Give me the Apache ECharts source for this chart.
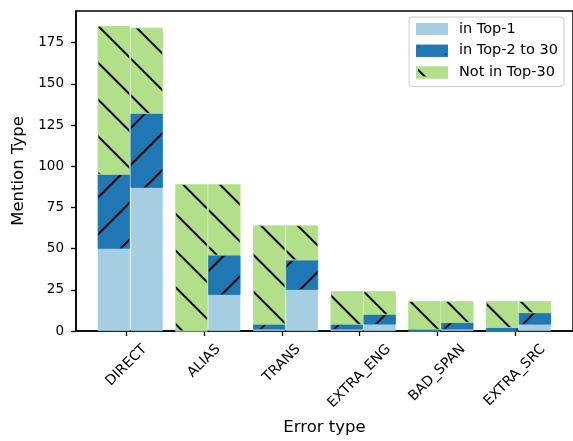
<!DOCTYPE html>
<html><head><meta charset="utf-8">
<script src="https://cdn.jsdelivr.net/npm/echarts@6/dist/echarts.min.js"></script>
<style>html,body{margin:0;padding:0;background:#fff}#c{width:573px;height:441px}</style>
</head><body><div id="c"></div>
<script>
const categories = ['DIRECT', 'ALIAS', 'TRANS', 'EXTRA_ENG', 'BAD_SPAN', 'EXTRA_SRC'];
const seriesNames = ['in Top-1', 'in Top-2 to 30', 'Not in Top-30'];
// left bar of each pair
const top1Left = [50, 0, 1, 1, 0, 0];
const top2Left = [45, 0, 3, 3, 1, 2];
const notLeft  = [90, 89, 60, 20, 17, 16];
// right bar of each pair
const top1Right = [87, 22, 25, 4, 1, 4];
const top2Right = [45, 24, 18, 6, 4, 7];
const notRight  = [52, 43, 21, 14, 13, 7];
const yTicks = [0, 25, 50, 75, 100, 125, 150, 175];

const colors = ['#a6cee3', '#1f78b4', '#b2df8a'];
const FONT = '"DejaVu Sans", sans-serif';
const LEFT_OFF = -0.163, RIGHT_OFF = 0.26, BAR_W = 32;
const X_MIN = -0.65, X_MAX = 5.75, Y_MAX = 194.25;

function hatch(rot) {
  return { symbol: 'rect', symbolSize: 1, symbolKeepAspect: false,
    dashArrayX: [10, 0], dashArrayY: [1.3, 24], rotation: rot,
    color: '#000', backgroundColor: null };
}
const decals = [null, hatch(-Math.PI / 4), hatch(Math.PI / 4)];

function barSeries(k, values, off, axisIdx, stack) {
  const itemStyle = { color: colors[k], borderColor: colors[k], borderWidth: 0.6 };
  if (decals[k]) itemStyle.decal = decals[k];
  return { type: 'bar', name: seriesNames[k], stack: stack, xAxisIndex: axisIdx, yAxisIndex: 0,
    barWidth: BAR_W,
    // value first so that stacking happens on the y dimension
    encode: { x: 1, y: 0 },
    data: values.map((v, i) => [v, i + off]), itemStyle: itemStyle,
    emphasis: { disabled: true } };
}

// rotated tick labels: centre each rotated label box under its tick (matplotlib style)
const LABEL_SIZE = 14, LABEL_MARGIN = 4;
const measure = document.createElement('canvas').getContext('2d');
measure.font = LABEL_SIZE + 'px "DejaVu Sans"';
const rich = {};
categories.forEach((c, i) => {
  const w = measure.measureText(c).width;
  const capH = LABEL_SIZE * 0.73;
  const D = 12.4 + 0.3536 * (w + capH) - LABEL_MARGIN;
  const a = D / 0.7071;
  rich['l' + i] = { fontSize: LABEL_SIZE, fontFamily: FONT, color: '#000', padding: [a, a, 0, 0] };
});

const chart = echarts.init(document.getElementById('c'), null, { renderer: 'canvas' });
chart.setOption({
  animation: false,
  backgroundColor: '#fff',
  grid: { left: 76, top: 11, right: -2, bottom: 106.7, show: true, borderColor: '#000', borderWidth: 1.5, backgroundColor: 'transparent' },
  legend: {
    orient: 'vertical', left: 409, top: 17,
    data: seriesNames.map(n => ({ name: n, icon: 'rect' })),
    itemWidth: 30, itemHeight: 10, itemGap: 5.7,
    padding: [4, 6, 6, 7],
    backgroundColor: 'rgba(255,255,255,0.8)', borderColor: '#cccccc', borderWidth: 1, borderRadius: 3,
    textStyle: { fontFamily: FONT, fontSize: 14.5, color: '#000', lineHeight: 16, padding: [0, 0, 0, 7] },
    selectedMode: false
  },
  xAxis: [
    { type: 'value', min: X_MIN, max: X_MAX, position: 'bottom',
      axisLine: { show: true, onZero: false, lineStyle: { color: '#000', width: 1.5 } },
      axisTick: { show: true, customValues: categories.map((c, i) => i), length: 5, lineStyle: { color: '#000', width: 1.3 } },
      axisLabel: { show: true, customValues: categories.map((c, i) => i), rotate: 45, margin: LABEL_MARGIN,
        align: 'center', verticalAlign: 'middle', hideOverlap: false,
        formatter: function (v) { const i = Math.round(v); return '{l' + i + '|' + categories[i] + '}'; },
        rich: rich },
      splitLine: { show: false },
      name: 'Error type', nameLocation: 'middle', nameGap: 88,
      nameTextStyle: { fontFamily: FONT, fontSize: 16.5, color: '#000' } },
    { type: 'value', min: X_MIN, max: X_MAX, show: false }
  ],
  yAxis: {
    type: 'value', min: 0, max: Y_MAX,
    axisLine: { show: true, onZero: false, lineStyle: { color: '#000', width: 1.5 } },
    axisTick: { show: true, customValues: yTicks, length: 5, lineStyle: { color: '#000', width: 1.3 } },
    axisLabel: { customValues: yTicks, color: '#000', fontSize: 13.5, fontFamily: FONT, margin: 12 },
    splitLine: { show: false },
    name: 'Mention Type', nameLocation: 'middle', nameGap: 43,
    nameTextStyle: { fontFamily: FONT, fontSize: 16.5, color: '#000' }
  },
  series: [
    barSeries(0, top1Left, LEFT_OFF, 0, 'left'),
    barSeries(1, top2Left, LEFT_OFF, 0, 'left'),
    barSeries(2, notLeft, LEFT_OFF, 0, 'left'),
    barSeries(0, top1Right, RIGHT_OFF, 1, 'right'),
    barSeries(1, top2Right, RIGHT_OFF, 1, 'right'),
    barSeries(2, notRight, RIGHT_OFF, 1, 'right')
  ]
});
</script></body></html>
